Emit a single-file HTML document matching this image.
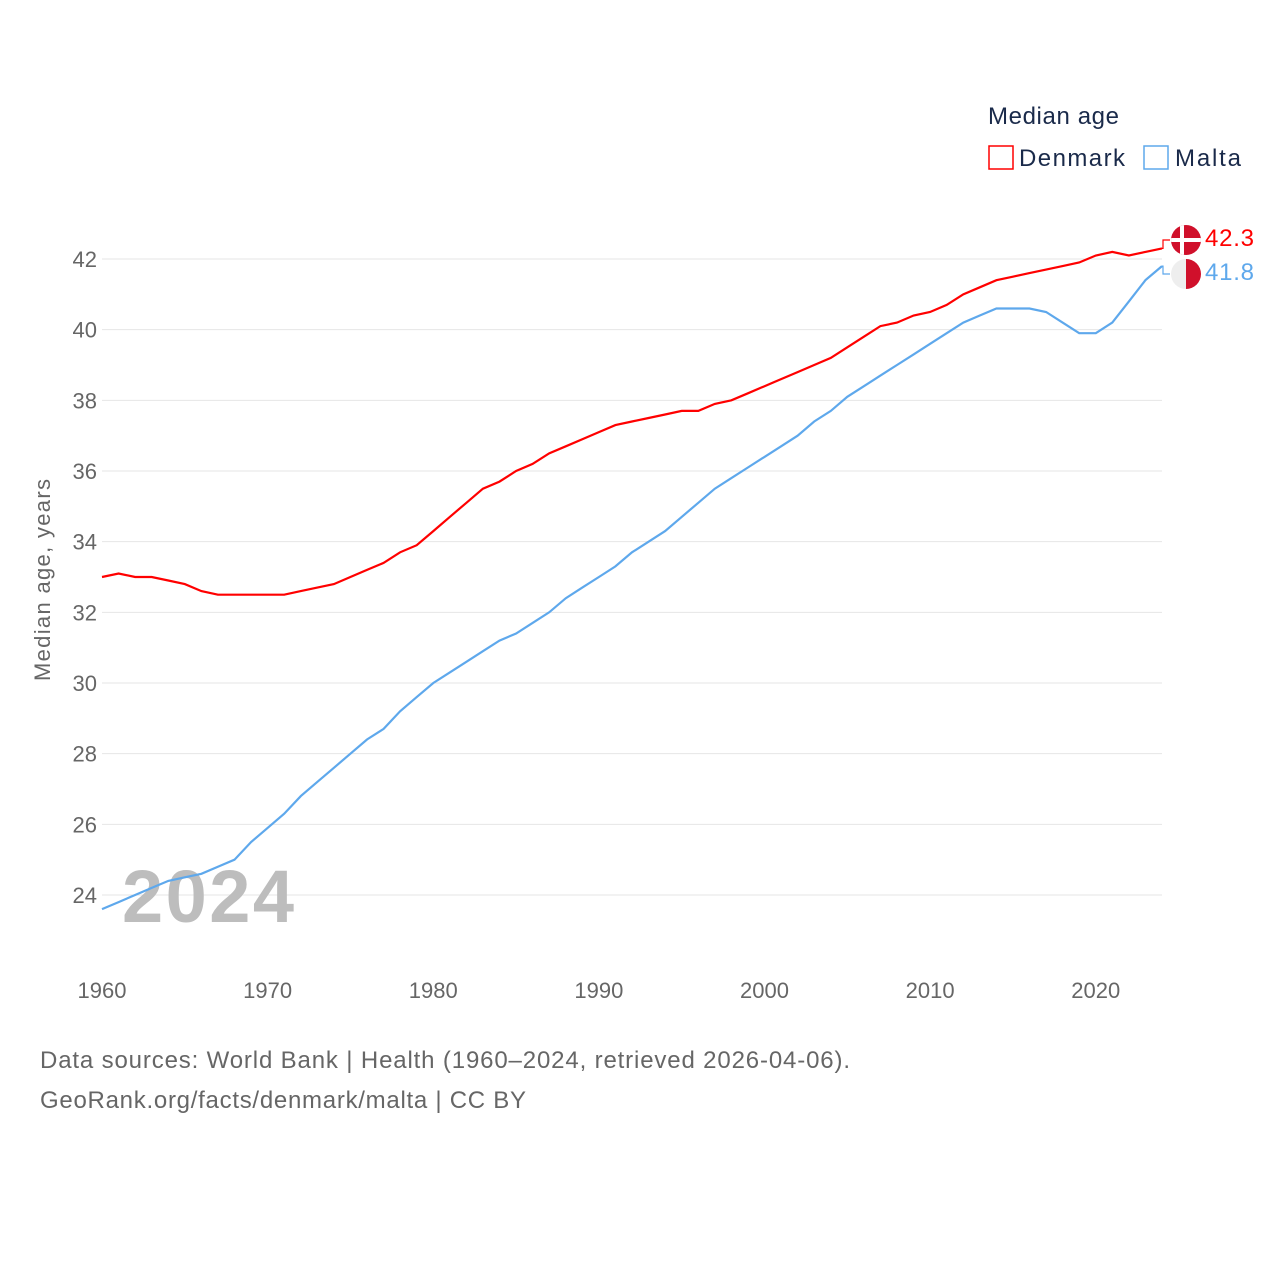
<!DOCTYPE html>
<html><head><meta charset="utf-8"><style>
body{margin:0;background:#fff;font-family:"Liberation Sans",sans-serif}
</style></head><body>
<svg width="1280" height="1280" viewBox="0 0 1280 1280">
<g id="grid"></g>
<g id="yt" font-size="22" fill="#666" text-anchor="end"></g>
<g id="xt" font-size="22" fill="#666" text-anchor="middle"></g>
<text x="50" y="580" transform="rotate(-90 50 580)" text-anchor="middle" font-size="22" fill="#666" textLength="202">Median age, years</text>
<text x="122" y="922" font-size="74" font-weight="bold" fill="#bdbdbd" textLength="172">2024</text>
<g id="lines"></g>
<text x="988" y="124" font-size="24" fill="#1a2a4a" textLength="131">Median age</text>
<g><rect x="989" y="146" width="24" height="23" fill="none" stroke="#ff0000" stroke-width="1.5"/><text x="1019" y="166" font-size="24" fill="#1a2a4a" textLength="106">Denmark</text></g>
<g><rect x="1144" y="146" width="24" height="23" fill="none" stroke="#5ea8ec" stroke-width="1.5"/><text x="1175" y="166" font-size="24" fill="#1a2a4a" textLength="66">Malta</text></g>
<g><clipPath id="c1"><circle cx="1186" cy="240" r="15"/></clipPath><g clip-path="url(#c1)"><rect x="1170" y="224" width="32" height="32" fill="#d0102b"/><rect x="1170" y="238" width="32" height="4" fill="#fff"/><rect x="1180" y="224" width="4" height="32" fill="#fff"/></g></g>
<g><clipPath id="c2"><circle cx="1186" cy="274" r="15"/></clipPath><g clip-path="url(#c2)"><rect x="1170" y="258" width="16" height="32" fill="#eee"/><rect x="1186" y="258" width="16" height="32" fill="#d0102b"/></g></g>
<text x="1205" y="246" font-size="24" fill="#ff0000" textLength="49">42.3</text>
<text x="1205" y="280" font-size="24" fill="#5ea8ec" textLength="49">41.8</text>
<text x="40" y="1068" font-size="24" fill="#666" textLength="810">Data sources: World Bank | Health (1960–2024, retrieved 2026-04-06).</text>
<text x="40" y="1108" font-size="24" fill="#666" textLength="486">GeoRank.org/facts/denmark/malta | CC BY</text>
</svg>
<script>
const years=[];for(let y=1960;y<=2024;y++)years.push(y);
const denmark=[33.0,33.1,33.0,33.0,32.9,32.8,32.6,32.5,32.5,32.5,32.5,32.5,32.6,32.7,32.8,33.0,33.2,33.4,33.7,33.9,34.3,34.7,35.1,35.5,35.7,36.0,36.2,36.5,36.7,36.9,37.1,37.3,37.4,37.5,37.6,37.7,37.7,37.9,38.0,38.2,38.4,38.6,38.8,39.0,39.2,39.5,39.8,40.1,40.2,40.4,40.5,40.7,41.0,41.2,41.4,41.5,41.6,41.7,41.8,41.9,42.1,42.2,42.1,42.2,42.3];
const malta=[23.6,23.8,24.0,24.2,24.4,24.5,24.6,24.8,25.0,25.5,25.9,26.3,26.8,27.2,27.6,28.0,28.4,28.7,29.2,29.6,30.0,30.3,30.6,30.9,31.2,31.4,31.7,32.0,32.4,32.7,33.0,33.3,33.7,34.0,34.3,34.7,35.1,35.5,35.8,36.1,36.4,36.7,37.0,37.4,37.7,38.1,38.4,38.7,39.0,39.3,39.6,39.9,40.2,40.4,40.6,40.6,40.6,40.5,40.2,39.9,39.9,40.2,40.8,41.4,41.8];
const yTicks=[24,26,28,30,32,34,36,38,40,42];
const xTicks=[1960,1970,1980,1990,2000,2010,2020];
const X=y=>102+(y-1960)*(1162-102)/64;
const Y=v=>259+(42-v)*(895-259)/18;
const NS='http://www.w3.org/2000/svg';
const g=document.getElementById('grid'),yt=document.getElementById('yt'),xt=document.getElementById('xt'),L=document.getElementById('lines');
yTicks.forEach(t=>{const l=document.createElementNS(NS,'line');


l.setAttribute('x1',102);l.setAttribute('x2',1162);l.setAttribute('y1',Y(t));l.setAttribute('y2',Y(t));l.setAttribute('stroke','#e6e6e6');g.appendChild(l);
const s=document.createElementNS(NS,'text');


s.setAttribute('x',97);s.setAttribute('y',Y(t)+8);s.textContent=t;yt.appendChild(s);});
xTicks.forEach(t=>{const s=document.createElementNS(NS,'text');


s.setAttribute('x',X(t));s.setAttribute('y',998);s.textContent=t;xt.appendChild(s);});
function line(data,color,name,ly){const p=document.createElementNS(NS,'path');


const d=data.map((v,i)=>(i?'L':'M')+X(years[i]).toFixed(1)+','+Y(v).toFixed(1)).join('');
p.setAttribute('d',d);p.setAttribute('fill','none');p.setAttribute('stroke',color);p.setAttribute('stroke-width',2.2);L.appendChild(p);
const c=document.createElementNS(NS,'path');


const ex=X(years[years.length-1]),ey=Y(data[data.length-1]);
c.setAttribute('d',`M${ex},${ey}H${ex+1}V${ly}H${ex+8}`);c.setAttribute('fill','none');c.setAttribute('stroke',color);c.setAttribute('stroke-width',1.2);L.appendChild(c);}
line(denmark,'#ff0000','line-denmark',240);
line(malta,'#5ea8ec','line-malta',274);
</script>
</body></html>
